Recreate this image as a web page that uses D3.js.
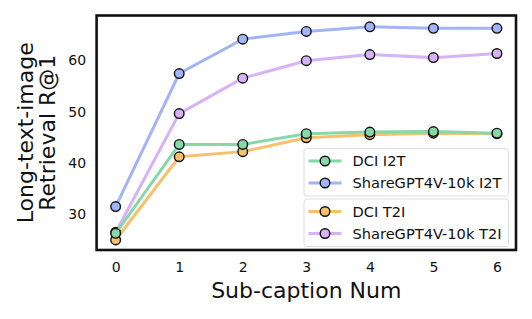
<!DOCTYPE html>
<html>
<head>
<meta charset="utf-8">
<script src="https://cdn.jsdelivr.net/npm/d3@7"></script>
<style>
  body { margin: 0; background: #fff; }
  text { font-family: "DejaVu Sans", sans-serif; fill: #111; }
</style>
</head>
<body>
<div id="chart"></div>
<script>
var subCaptions = [0, 1, 2, 3, 4, 5, 6];
var dciI2T = [26.3, 43.6, 43.6, 45.7, 46.0, 46.1, 45.8];
var shareI2T = [31.5, 57.4, 64.1, 65.6, 66.5, 66.2, 66.2];
var dciT2I = [25.0, 41.2, 42.2, 44.9, 45.5, 45.8, 45.7];
var shareT2I = [26.5, 49.6, 56.5, 59.9, 61.1, 60.5, 61.3];
var yTicks = [30, 40, 50, 60];

var series = [
  {name: "DCI I2T", values: dciI2T, color: "#86d8a7"},
  {name: "ShareGPT4V-10k I2T", values: shareI2T, color: "#a2b4f7"},
  {name: "DCI T2I", values: dciT2I, color: "#f6c06c"},
  {name: "ShareGPT4V-10k T2I", values: shareT2I, color: "#d8b2f7"}
];

var W = 532, H = 319,
    margin = {top: 15.5, right: 16, bottom: 69, left: 96.6},
    width = W - margin.left - margin.right,
    height = H - margin.top - margin.bottom;

var x = d3.scaleLinear().domain([-0.3, 6.3]).range([0, width]);
var y = d3.scaleLinear().domain([23.05, 68.7]).range([height, 0]);

var svg = d3.select("#chart").append("svg")
    .attr("width", W)
    .attr("height", H);

var g = svg.append("g")
    .attr("transform", "translate(" + margin.left + "," + margin.top + ")");

var xAxis = d3.axisBottom(x).tickValues(subCaptions).tickFormat(d3.format("d"))
    .tickSize(0).tickPadding(12);
var yAxis = d3.axisLeft(y).tickValues(yTicks).tickSize(0).tickPadding(10.5);

g.append("g")
    .attr("transform", "translate(0," + height + ")")
    .call(xAxis)
    .call(function(s) { s.select(".domain").remove(); })
    .selectAll("text").style("font-size", "14px").style("fill", "#111");

g.append("g")
    .call(yAxis)
    .call(function(s) { s.select(".domain").remove(); })
    .selectAll("text").style("font-size", "14px").style("fill", "#111");

var line = d3.line()
    .x(function(d, i) { return x(subCaptions[i]); })
    .y(function(d) { return y(d); });

// draw in reverse so DCI I2T ends on top like the original
series.slice().reverse().forEach(function(s) {
  g.append("path")
      .datum(s.values)
      .attr("fill", "none")
      .attr("stroke", s.color)
      .attr("stroke-width", 3)
      .attr("d", line);
  g.selectAll(null)
      .data(s.values)
      .enter().append("circle")
      .attr("cx", function(d, i) { return x(subCaptions[i]); })
      .attr("cy", function(d) { return y(d); })
      .attr("r", 4.8)
      .attr("fill", s.color)
      .attr("stroke", "#111")
      .attr("stroke-width", 1.4);
});

// frame
g.append("rect")
    .attr("width", width)
    .attr("height", height)
    .attr("fill", "none")
    .attr("stroke", "#111")
    .attr("stroke-width", 2.6);

// legends (two boxes)
function legend(items, top) {
  var lg = svg.append("g").attr("transform", "translate(304," + top + ")");
  lg.append("rect")
      .attr("width", 204.5)
      .attr("height", 47.5)
      .attr("rx", 3)
      .attr("fill", "#fff")
      .attr("fill-opacity", 0.85)
      .attr("stroke", "#ddd")
      .attr("stroke-width", 1);
  items.forEach(function(s, i) {
    var cy = 12.5 + i * 22;
    lg.append("line")
        .attr("x1", 4.5).attr("x2", 37.5)
        .attr("y1", cy).attr("y2", cy)
        .attr("stroke", s.color)
        .attr("stroke-width", 3);
    lg.append("circle")
        .attr("cx", 21).attr("cy", cy).attr("r", 4.8)
        .attr("fill", s.color)
        .attr("stroke", "#111")
        .attr("stroke-width", 1.4);
    lg.append("text")
        .attr("x", 48.5).attr("y", cy)
        .attr("dy", "0.36em")
        .style("font-size", "14.6px")
        .text(s.name);
  });
}
legend(series.slice(0, 2), 148.5);
legend(series.slice(2, 4), 199);

// axis titles
svg.append("text")
    .attr("x", margin.left + width / 2)
    .attr("y", 298)
    .attr("text-anchor", "middle")
    .style("font-size", "22px")
    .text("Sub-caption Num");

var yl = svg.append("text")
    .attr("transform", "translate(0," + (margin.top + height / 2) + ") rotate(-90)")
    .attr("text-anchor", "middle")
    .style("font-size", "22px");
yl.append("tspan").attr("x", 0).attr("y", 33).text("Long-text-image");
yl.append("tspan").attr("x", 0).attr("y", 55).text("Retrieval R@1");
</script>
</body>
</html>
